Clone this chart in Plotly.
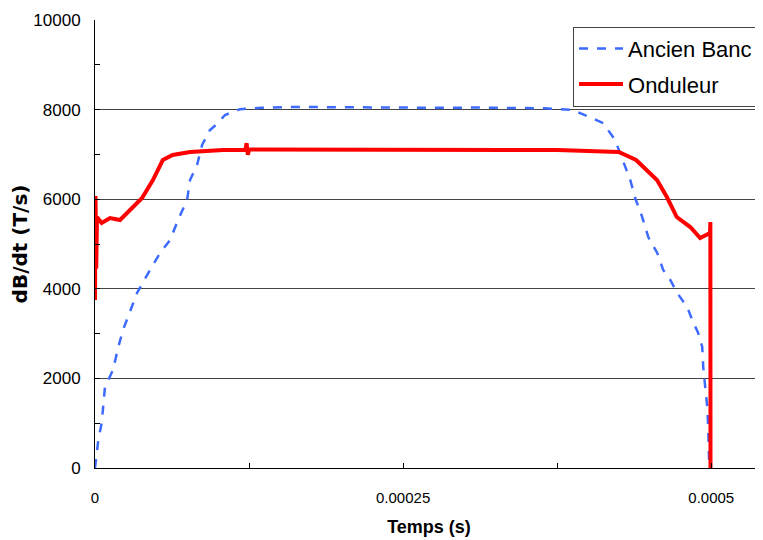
import plotly.graph_objects as go

# Ancien Banc (dashed blue)
t_ancien = [0, 2.7e-6, 5.4e-6, 8.1e-6, 14.6e-6, 18.7e-6, 22.7e-6, 28.4e-6, 34.1e-6, 44.6e-6,
            52.8e-6, 60.9e-6, 67.4e-6, 74.7e-6, 77.1e-6, 82.8e-6, 86.9e-6, 93.3e-6, 99e-6,
            105.5e-6, 117.7e-6, 135e-6, 160e-6, 190e-6, 220e-6, 250e-6, 280e-6, 310e-6,
            340e-6, 365e-6, 388e-6, 412.3e-6, 422e-6, 434.3e-6, 438.3e-6, 444e-6, 448.9e-6,
            456.2e-6, 461e-6, 466.8e-6, 472.4e-6, 480.5e-6, 484.6e-6, 489.4e-6, 492.7e-6,
            493.5e-6, 495.1e-6, 496.8e-6, 497.6e-6, 498.4e-6]
v_ancien = [0, 625, 1004, 1808, 2188, 2679, 3080, 3482, 3906, 4420,
            4799, 5089, 5536, 5982, 6428, 6763, 7210, 7545, 7679,
            7880, 8010, 8040, 8060, 8055, 8045, 8050, 8040, 8045,
            8035, 8030, 7990, 7700, 7321, 6428, 6026, 5602, 5156,
            4799, 4420, 4196, 3906, 3594, 3303, 3013, 2701,
            2254, 1808, 1362, 848, 0]

# Onduleur (solid red)
t_ond = [0, 0.4e-6, 1.0e-6, 1.6e-6, 5.4e-6, 12.2e-6, 20.3e-6, 28.4e-6, 38.2e-6, 47e-6,
         55e-6, 63e-6, 77e-6, 104e-6, 122e-6, 123e-6, 124e-6, 125e-6, 150e-6, 200e-6,
         300e-6, 375e-6, 425e-6, 439e-6, 456e-6, 464e-6, 472e-6, 483e-6, 491e-6,
         499e-6, 499.3e-6, 499.4e-6]
v_ond = [3750, 6070, 4450, 5600, 5470, 5580, 5536, 5760, 6026, 6428,
         6875, 6986, 7053, 7098, 7100, 7250, 6990, 7110, 7110, 7105,
         7100, 7098, 7053, 6875, 6428, 6049, 5602, 5379, 5134,
         5245, 5490, 0]

x_tickvals = [0, 0.00025, 0.0005]
x_ticktext = ["0", "0.00025", "0.0005"]

fig = go.Figure()
fig.add_trace(go.Scatter(x=t_ancien, y=v_ancien, mode="lines", name="Ancien Banc",
                         legendgroup="a",
                         line=dict(color="#3D6BFF", width=2.5, dash="dash")))
fig.add_trace(go.Scatter(x=t_ond, y=v_ond, mode="lines", name="Onduleur",
                         legendgroup="b",
                         line=dict(color="#FF0000", width=4)))

fig.update_layout(
    width=763, height=540,
    margin=dict(l=87, r=8, t=12, b=80, autoexpand=False),
    paper_bgcolor="white", plot_bgcolor="white",
    font=dict(family="Liberation Sans, Arial", color="black", size=17),
    showlegend=True,
    legend=dict(x=0.7156, y=0.985, xanchor="left", yanchor="top",
                bgcolor="white", bordercolor="#444", borderwidth=1,
                font=dict(size=22), itemwidth=44, tracegroupgap=4),
    xaxis=dict(range=[0, 0.000542], tickvals=x_tickvals, ticktext=x_ticktext,
               tickfont=dict(size=15),
               ticks="inside", ticklen=5, tickcolor="black",
               minor=dict(tickvals=[0.000125, 0.000375], ticks="inside", ticklen=5, tickcolor="black"),
               showgrid=False, zeroline=False, showline=True, linecolor="black", linewidth=1,
               ticklabelstandoff=16, automargin=False,
               title=dict(text="<b>Temps (s)</b>", font=dict(size=18), standoff=15)),
    yaxis=dict(range=[0, 10000], dtick=2000, tick0=0, tickformat="d",
               ticks="inside", ticklen=5, tickcolor="black",
               minor=dict(dtick=1000, ticks="inside", ticklen=5, tickcolor="black", showgrid=False),
               showgrid=True, gridcolor="#444", gridwidth=1,
               zeroline=False, showline=True, linecolor="black", linewidth=1,
               ticklabelstandoff=10, automargin=False,
               title=dict(text="<b>dB/dt (T/s)</b>",
                          font=dict(family="DejaVu Sans", size=20), standoff=4)),
)

fig.write_html("out.html")
